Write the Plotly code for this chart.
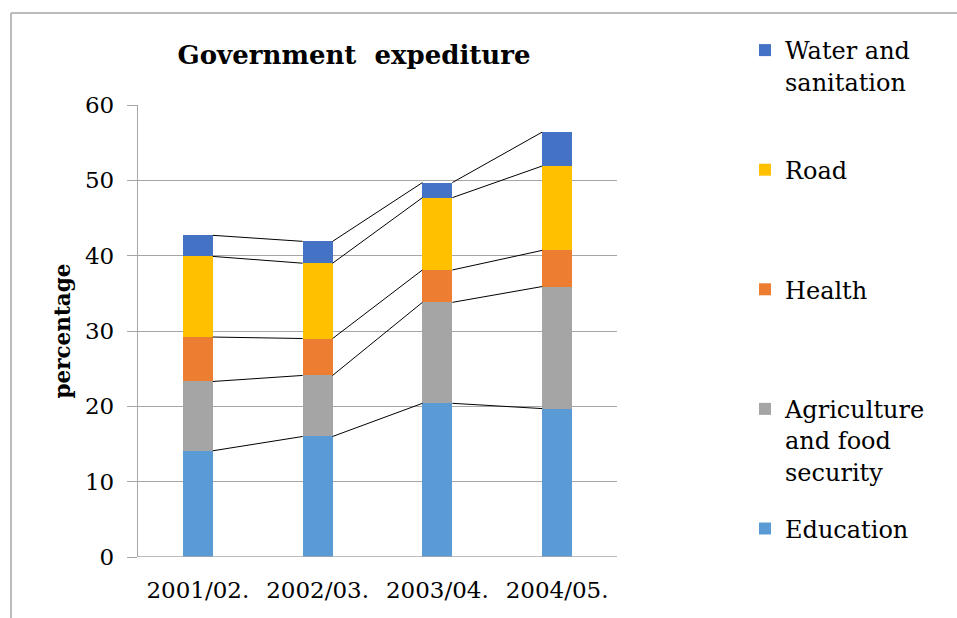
import plotly.graph_objects as go

# ---- data -------------------------------------------------------------
categories = ["2001/02.", "2002/03.", "2003/04.", "2004/05."]
education = [14.1, 16.0, 20.4, 19.7]
agriculture = [9.2, 8.1, 13.4, 16.2]
health = [5.9, 4.9, 4.3, 4.8]
road = [10.7, 10.0, 9.6, 11.2]
water = [2.8, 2.9, 2.0, 4.5]

series_names = ["Education", "Agriculture<br>and food<br>security", "Health", "Road",
                "Water and<br>sanitation"]
series_values = [education, agriculture, health, road, water]
series_colors = ["#5B9BD5", "#A5A5A5", "#ED7D31", "#FFC000", "#4472C4"]

# ---- layout geometry --------------------------------------------------
W, H = 957, 618
M_L, M_R, M_T, M_B = 138, 340, 105, 61
PW, PH = W - M_L - M_R, H - M_T - M_B
BAR_W = 0.25
SERIF = "DejaVu Serif"


def px_x(p):
    return (p - M_L) / PW


def px_y(p):
    return (H - M_B - p) / PH


xs = list(range(len(categories)))
n_series = len(series_names)
fig = go.Figure()

# stacked bars; legend lists the top segment first, each entry padded to
# three lines (except the last) so the entries sit at an even pitch
for i, (name, vals, col) in enumerate(zip(series_names, series_values, series_colors)):
    lines = name.count("<br>") + 1
    label = name if i == 0 else name + "<br> " * (3 - lines)
    fig.add_trace(go.Bar(
        x=xs, y=vals, name=label, width=BAR_W, marker_color=col,
        marker_line_width=0, legendgroup=f"g{i}", legendrank=n_series - i,
    ))

# series lines joining the top of each segment between neighbouring bars
cum = [0.0] * len(categories)
for vals in series_values:
    cum = [c + v for c, v in zip(cum, vals)]
    lx, ly = [], []
    for j in range(len(categories) - 1):
        lx += [xs[j] + BAR_W / 2, xs[j + 1] - BAR_W / 2, None]
        ly += [cum[j], cum[j + 1], None]
    fig.add_trace(go.Scatter(x=lx, y=ly, mode="lines", showlegend=False,
                             line=dict(color="black", width=1), hoverinfo="skip"))

grid = "#A6A6A6"
fig.update_layout(
    width=W, height=H,
    margin=dict(l=M_L, r=M_R, t=M_T, b=M_B, autoexpand=False),
    paper_bgcolor="white", plot_bgcolor="white",
    barmode="stack",
    font=dict(family=SERIF, color="black"),
    title=dict(text="<b>Government  expediture</b>", font=dict(size=26, family=SERIF),
               x=px_x(354), xref="paper", xanchor="center",
               y=1 - 55 / H, yref="container", yanchor="middle"),
    xaxis=dict(range=[-0.5, len(categories) - 0.5], tickvals=xs, ticktext=categories,
               showgrid=False, zeroline=False, showline=False, ticks="",
               tickfont=dict(size=23, family=SERIF), ticklabelstandoff=17),
    yaxis=dict(range=[0, 60], dtick=10, showgrid=True, gridcolor=grid, gridwidth=1.3,
               zeroline=False, showline=True, linecolor=grid, linewidth=1.3,
               ticks="outside", ticklen=10, tickcolor=grid, tickwidth=1.3,
               tickfont=dict(size=23, family=SERIF), ticklabelstandoff=8,
               title=dict(text="<b>percentage</b>", font=dict(size=21.5, family=SERIF),
                          standoff=8)),
    legend=dict(x=px_x(745), xanchor="left", y=px_y(28), yanchor="top",
                traceorder="grouped", tracegroupgap=23, valign="top",
                maxheight=600,
                font=dict(size=24, family=SERIF), bgcolor="rgba(0,0,0,0)"),
    shapes=[
        # chart frame (top and left edges)
        dict(type="line", xref="paper", yref="paper", x0=px_x(11), x1=px_x(W + 5),
             y0=px_y(13), y1=px_y(13), line=dict(color=grid, width=1.5)),
        dict(type="line", xref="paper", yref="paper", x0=px_x(11), x1=px_x(11),
             y0=px_y(13), y1=px_y(H + 5), line=dict(color=grid, width=1.5)),
        # category axis baseline
        dict(type="line", xref="paper", yref="y", x0=0, x1=1, y0=0, y1=0,
             line=dict(color=grid, width=1.3)),
    ],
)

fig.write_html("out.html")
